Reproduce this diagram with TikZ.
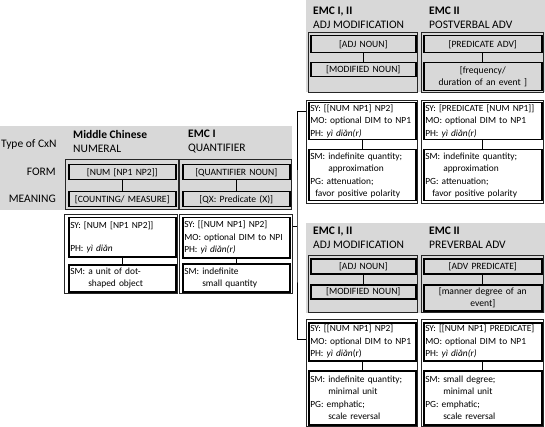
\documentclass[tikz,border=0pt]{standalone}
\usepackage{fontspec}
\setmainfont{Carlito}
\usetikzlibrary{calc, positioning}
\definecolor{panel}{RGB}{216,216,216}

\begin{document}
\begin{tikzpicture}[x=1pt,y=-1pt,
  outbox/.style={draw=black!85, line width=0.9pt, anchor=north west, inner sep=0pt},
  cell/.style={draw=black, line width=1.5pt, anchor=north west, inner xsep=1.5pt, inner ysep=1pt,
    font=\fontsize{9.4}{12.5}\selectfont, align=left, fill=white},
  gcell/.style={cell, fill=panel, align=center, font=\fontsize{9.6}{11.5}\selectfont},
  head/.style={anchor=north west, inner sep=0pt, align=left, font=\fontsize{11.5}{14}\selectfont},
  rowlab/.style={anchor=east, inner sep=0pt, font=\fontsize{11.5}{14}\selectfont},
  tie/.style={draw=black, line width=1.2pt},
  brace/.style={draw=black, line width=1pt},
]
\useasboundingbox (0,0) rectangle (545,427);
% ---------- gray bands ----------
\fill[panel] (0,126) rectangle (292,210);
\fill[panel] (306,0) rectangle (545,92);
\fill[panel] (306,223) rectangle (545,313);
% ---------- row labels ----------
\node[rowlab, anchor=west] (typeLab) at (1,144) {Type of CxN};
\node[rowlab] (formLab) at (56,172) {FORM};
\node[rowlab] (meanLab) at (56,199) {MEANING};
% ---------- Middle Chinese: numeral ----------
\node[head] (mcHead) at (73,130) {\textbf{Middle Chinese}\\NUMERAL};
\node[outbox, minimum width=113pt, minimum height=50pt] (mcUp) at (65,159) {};
\node[gcell, text width=104pt, minimum height=15pt] (mcForm) at (68,164) {[NUM [NP1 NP2]]};
\node[gcell, text width=104pt, minimum height=15pt] (mcMean) at (68,191) {[COUNTING/ MEASURE]};
\draw[tie] (mcForm) -- (mcMean);
\node[outbox, minimum width=113pt, minimum height=79pt] (mcLow) at (64,214) {};
\node[cell, text width=104pt, minimum height=39pt] (mcSyn) at (68,217) {SY: [NUM [NP1 NP2]]\\[10pt]PH: \textit{yì diǎn}};
\node[cell, text width=104pt, minimum height=27pt] (mcSem) at (68,264) {SM: a unit of dot-\\\hspace*{18pt}shaped object};
\draw[tie] (mcSyn) -- (mcSem);
% ---------- EMC I: quantifier ----------
\node[head] (qtHead) at (188,130) {\textbf{EMC I}\\QUANTIFIER};
\node[outbox, minimum width=112pt, minimum height=50pt] (qtUp) at (179,159) {};
\node[gcell, text width=104pt, minimum height=15pt] (qtForm) at (182,164) {[QUANTIFIER NOUN]};
\node[gcell, text width=104pt, minimum height=15pt] (qtMean) at (182,191) {[QX: Predicate (X)]};
\draw[tie] (qtForm) -- (qtMean);
\node[outbox, minimum width=113pt, minimum height=79pt] (qtLow) at (179,214) {};
\node[cell, text width=104pt, minimum height=40pt] (qtSyn) at (182,217) {SY: [[NUM NP1] NP2]\\MO: optional DIM to NPI\\PH: \textit{yì diǎn(r)}};
\node[cell, text width=104pt, minimum height=28pt] (qtSem) at (182,263) {SM: indefinite\\\hspace*{18pt}small quantity};
\draw[tie] (qtSyn) -- (qtSem);
% ---------- EMC I, II: adj modification (upper) ----------
\node[head] (adjHeadA) at (313,7) {\textbf{EMC I, II}\\ADJ MODIFICATION};
\node[outbox, minimum width=109pt, minimum height=60pt] (adjUpA) at (308,32) {};
\node[gcell, text width=102pt, minimum height=17pt] (adjFormA) at (310,35) {[ADJ NOUN]};
\node[gcell, text width=102pt, minimum height=14pt] (adjMeanA) at (310,62) {[MODIFIED NOUN]};
\draw[tie] (adjFormA) -- (adjMeanA);
\node[outbox, minimum width=111pt, minimum height=103pt] (adjLowA) at (306,100) {};
\node[cell, text width=104pt, minimum height=37pt] (adjSynA) at (308,102) {SY: [[NUM NP1] NP2]\\MO: optional DIM to NP1\\PH: \textit{yì diǎn(r)}};
\node[cell, text width=104pt, minimum height=51pt] (adjSemA) at (308,149) {SM: indefinite quantity;\\\hspace*{18pt}approximation\\PG: attenuation;\\\hspace*{5pt}favor positive polarity};
\draw[tie] (adjSynA) -- (adjSemA);
% ---------- EMC II: postverbal adv ----------
\node[head] (postHead) at (429,7) {\textbf{EMC II}\\POSTVERBAL ADV};
\node[outbox, minimum width=122pt, minimum height=60pt] (postUp) at (421,32) {};
\node[gcell, text width=115pt, minimum height=17pt] (postForm) at (423,35) {[PREDICATE ADV]};
\node[gcell, text width=115pt, minimum height=28pt] (postMean) at (423,62) {[frequency/\\duration of an event ]};
\draw[tie] (postForm) -- (postMean);
\node[outbox, minimum width=122pt, minimum height=103pt] (postLow) at (421,100) {};
\node[cell, text width=115pt, minimum height=37pt] (postSyn) at (423,102) {SY: [PREDICATE [NUM NP1]]\\MO: optional DIM to NP1\\PH: \textit{yì diǎn(r)}};
\node[cell, text width=115pt, minimum height=51pt] (postSem) at (423,149) {SM: indefinite quantity;\\\hspace*{18pt}approximation\\PG: attenuation;\\\hspace*{7pt}favor positive polarity};
\draw[tie] (postSyn) -- (postSem);
% ---------- EMC I, II: adj modification (lower) ----------
\node[head] (adjHeadB) at (313,227) {\textbf{EMC I, II}\\ADJ MODIFICATION};
\node[outbox, minimum width=109pt, minimum height=57pt] (adjUpB) at (308,255) {};
\node[gcell, text width=102pt, minimum height=15pt] (adjFormB) at (310,258) {[ADJ NOUN]};
\node[gcell, text width=102pt, minimum height=14pt] (adjMeanB) at (310,284) {[MODIFIED NOUN]};
\draw[tie] (adjFormB) -- (adjMeanB);
\node[outbox, minimum width=111pt, minimum height=107pt] (adjLowB) at (306,319) {};
\node[cell, text width=104pt, minimum height=38pt] (adjSynB) at (308,322) {SY: [[NUM NP1] NP2]\\MO: optional DIM to NP1\\PH: \textit{yì diǎn}(r)};
\node[cell, text width=104pt, minimum height=54pt] (adjSemB) at (308,370) {SM: indefinite quantity;\\\hspace*{18pt}minimal unit\\PG: emphatic;\\\hspace*{18pt}scale reversal};
\draw[tie] (adjSynB) -- (adjSemB);
% ---------- EMC II: preverbal adv ----------
\node[head] (preHead) at (429,227) {\textbf{EMC II}\\PREVERBAL ADV};
\node[outbox, minimum width=122pt, minimum height=57pt] (preUp) at (421,255) {};
\node[gcell, text width=115pt, minimum height=15pt] (preForm) at (423,258) {[ADV PREDICATE]};
\node[gcell, text width=115pt, minimum height=26pt] (preMean) at (423,284) {[manner degree of an\\event]};
\draw[tie] (preForm) -- (preMean);
\node[outbox, minimum width=122pt, minimum height=107pt] (preLow) at (421,319) {};
\node[cell, text width=115pt, minimum height=38pt] (preSyn) at (423,322) {SY: [[NUM NP1] PREDICATE]\\MO: optional DIM to NP1\\PH: \textit{yì diǎn(r)}};
\node[cell, text width=115pt, minimum height=54pt] (preSem) at (423,370) {SM: small degree;\\\hspace*{18pt}minimal unit\\PG: emphatic;\\\hspace*{18pt}scale reversal};
\draw[tie] (preSyn) -- (preSem);
% ---------- bracket from quantifier to later uses ----------
\coordinate (spine) at (297,227);
\draw[brace] (qtLow.east |- spine) -- (spine);
\draw[brace] ($(adjLowA.north west)+(0,12)$) -| (spine) |- ($(adjLowB.north west)+(0,20)$);
\end{tikzpicture}
\end{document}
